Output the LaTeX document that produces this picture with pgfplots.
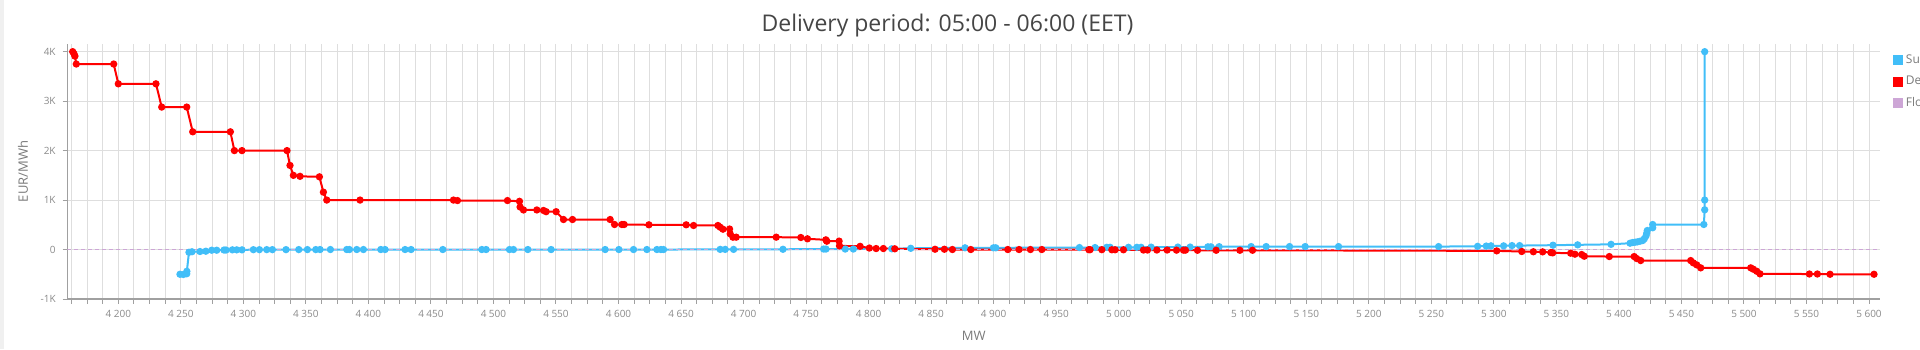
\documentclass[border=0pt]{standalone}
\usepackage{fontspec}
\setmainfont{Open Sans}
\usepackage{pgfplots}
\pgfplotsset{compat=1.18}
\definecolor{supply}{HTML}{41BEF8}
\definecolor{demand}{HTML}{FF0000}
\definecolor{flow}{HTML}{CDA6D6}
\definecolor{gridc}{HTML}{DEDEDE}
\definecolor{axisc}{HTML}{A0A0A0}
\definecolor{tickc}{HTML}{8A8A8A}
\definecolor{labc}{HTML}{7A7A7A}
\definecolor{titc}{HTML}{454545}
\begin{document}
\begin{tikzpicture}
\useasboundingbox (0pt,0pt) rectangle (960pt,174.5pt);
\fill[black!6] (0pt,0pt) rectangle (2pt,174.5pt);
\node[anchor=base, font=\fontsize{11.5}{13}\selectfont, text=titc, inner sep=0pt] at (473.75pt,158.65pt) {Delivery period: 05:00 - 06:00 (EET)};
\begin{axis}[
  at={(33.65pt,25pt)}, anchor=south west,
  scale only axis, width=906.35pt, height=127.5pt,
  xmin=4159.2, xmax=5608.8, ymin=-1000, ymax=4155,
  axis lines=left, axis line style={-, draw=axisc, line width=0.6pt},
  xtick distance=50,
  minor xtick={4162.5,4175,...,5608},
  ytick={-1000,0,1000,2000,3000,4000}, yticklabels={-1K,0,1K,2K,3K,4K},
  xmajorgrids=true, xminorgrids=true, ymajorgrids=true,
  major grid style={draw=gridc, line width=0.5pt},
  minor grid style={draw=gridc, line width=0.5pt},
  tick style={draw=axisc, line width=0.5pt},
  tick align=outside, major tick length=2.3pt, minor tick length=2.3pt,
  /pgf/number format/assume math mode=true,
  /pgf/number format/1000 sep={\hspace{0.25em}},
  xticklabel style={font=\fontsize{5}{6}\selectfont, text=tickc},
  yticklabel style={font=\fontsize{5}{6}\selectfont, text=tickc},
  xlabel={MW}, ylabel={EUR/MWh},
  xlabel style={font=\fontsize{6.5}{7}\selectfont, text=labc, at={(axis description cs:0.5,-0.145)}, anchor=center},
  ylabel style={font=\fontsize{6.5}{7}\selectfont, text=labc, at={(axis description cs:-0.0245,0.5)}, anchor=center},
  legend style={at={(axis description cs:1.007,0.967)}, anchor=north west, draw=none, fill=none,
    font=\fontsize{6}{7}\selectfont, text=labc, row sep=3pt, inner sep=0pt,
    nodes={inner sep=0.8pt}, /tikz/every odd column/.style={column sep=0.6pt}},
  legend image code/.code={\fill[#1, draw=none, solid] (0pt,-2.5pt) rectangle (5pt,2.5pt);},
  legend cell align=left,
]
\addplot[supply, line width=1pt, mark=*, mark size=1.3pt, mark options={solid, fill=supply, draw=supply}] coordinates {
(4249.3,-500) (4252,-505) (4254.7,-490) (4254.8,-440) (4256.5,-55) (4258.9,-45)
(4265.3,-40) (4270,-34) (4274.7,-14) (4278.7,-14) (4284.5,-10) (4286.1,-10)
(4291.2,-6) (4294.7,-6) (4298.9,-6) (4308,-3) (4312.8,-3) (4318.7,-2) (4323.2,-2)
(4334.1,-2) (4344.3,-1) (4351.2,-1) (4357.9,-1) (4361.3,0) (4369.6,0) (4382.7,0)
(4384.8,0) (4390.7,0) (4396,0) (4409.9,0) (4413.3,0) (4429.3,0) (4434.1,0)
(4459.5,0) (4490.7,0) (4494.1,0) (4512.8,0) (4516,0) (4527.5,0) (4546.1,0)
(4589.3,0) (4600.3,0) (4612,0) (4622.7,0) (4630.7,0) (4633.9,0) (4636,0)
(4681.3,3) (4685.3,3) (4692,3) (4731.5,5) (4764,10) (4765.9,10) (4781.3,10)
(4787.8,10) (4818.5,15) (4833.7,25) (4877.1,35) (4899.8,35) (4901.7,35)
(4968.6,40) (4981.1,40) (4990.5,45) (4993.1,45) (5007.8,45) (5014.5,45)
(5017.9,45) (5025.9,48) (5047.3,50) (5057.1,50) (5071.3,55) (5073.7,55)
(5080.3,58) (5105.9,60) (5117.9,60) (5136.6,60) (5149.1,60) (5175.8,60)
(5255.8,60) (5287,65) (5293.9,70) (5297.7,75) (5307.8,75) (5314.5,80)
(5320.6,80) (5347.3,88) (5367,95) (5393.7,105) (5408.9,128) (5411,142)
(5412.9,148) (5414.7,155) (5416.9,168) (5419,182) (5420.3,216) (5421.7,277)
(5422.2,330) (5422.7,385) (5427,440) (5427,506) (5467.9,506) (5468.6,803)
(5468.6,1000) (5468.6,4000)
};
\addlegendentry{Supply}
\addplot[demand, line width=1pt, mark=*, mark size=1.3pt, mark options={solid, fill=demand, draw=demand}] coordinates {
(4163.5,4000) (4164.5,3960) (4165.3,3910) (4166.4,3750) (4196.3,3750) (4200,3350)
(4230.1,3350) (4234.7,2880) (4254.7,2880) (4259.5,2380) (4289.6,2380) (4292.8,2000)
(4298.9,2000) (4334.9,2000) (4337.3,1700) (4340,1500) (4345.3,1480) (4360.8,1470)
(4364,1160) (4366.7,1000) (4393.3,1000) (4468,1000) (4471.2,990) (4511.2,990)
(4520.8,975) (4521.3,860) (4524,800) (4534.7,800) (4540,790) (4542.1,765)
(4550.1,765) (4556,607) (4563.2,607) (4593.3,607) (4596.8,506) (4602.7,506)
(4604.5,506) (4624.3,500) (4654.1,500) (4660,486) (4679.5,486) (4681.3,451)
(4683.5,411) (4688.8,415) (4689.3,318) (4691.5,250) (4694.1,250) (4726.1,250)
(4745.8,243) (4751.1,217) (4765.8,196) (4766.6,168) (4776.4,170) (4776.7,75)
(4793.2,65) (4800.6,30) (4806,20) (4811.8,20) (4820.9,15) (4853.1,6) (4860.6,6)
(4867,0) (4881.7,0) (4911.3,0) (4920.3,0) (4929.4,0) (4938.5,0) (4976.1,-3)
(4977.1,-3) (4986.5,-3) (4994.5,-5) (4997.1,-5) (5003.8,-5) (5019.8,-10)
(5023,-10) (5030.5,-10) (5038.7,-10) (5046.2,-12) (5051.8,-12) (5053.4,-12)
(5063,-15) (5077.9,-15) (5096.9,-15) (5107,-15) (5302.3,-27) (5322.3,-40)
(5331.6,-45) (5339,-47) (5345.6,-61) (5347,-67) (5361.4,-74) (5364.8,-94)
(5370.2,-101) (5372.3,-135) (5392.3,-142) (5412.2,-142) (5414.2,-182)
(5417.4,-223) (5457.4,-223) (5459.5,-270) (5462.2,-310) (5465.4,-370)
(5505.4,-370) (5507.5,-398) (5510.2,-439) (5512.8,-492) (5552.3,-495)
(5558.7,-495) (5568.8,-500) (5604,-500)
};
\addlegendentry{Demand}
\addplot[flow, line width=0.6pt, dash pattern=on 2pt off 1.5pt, mark=none] coordinates {(4159.2,0) (5608.8,0)};
\addlegendentry{Flow}
\end{axis}
\end{tikzpicture}
\end{document}
